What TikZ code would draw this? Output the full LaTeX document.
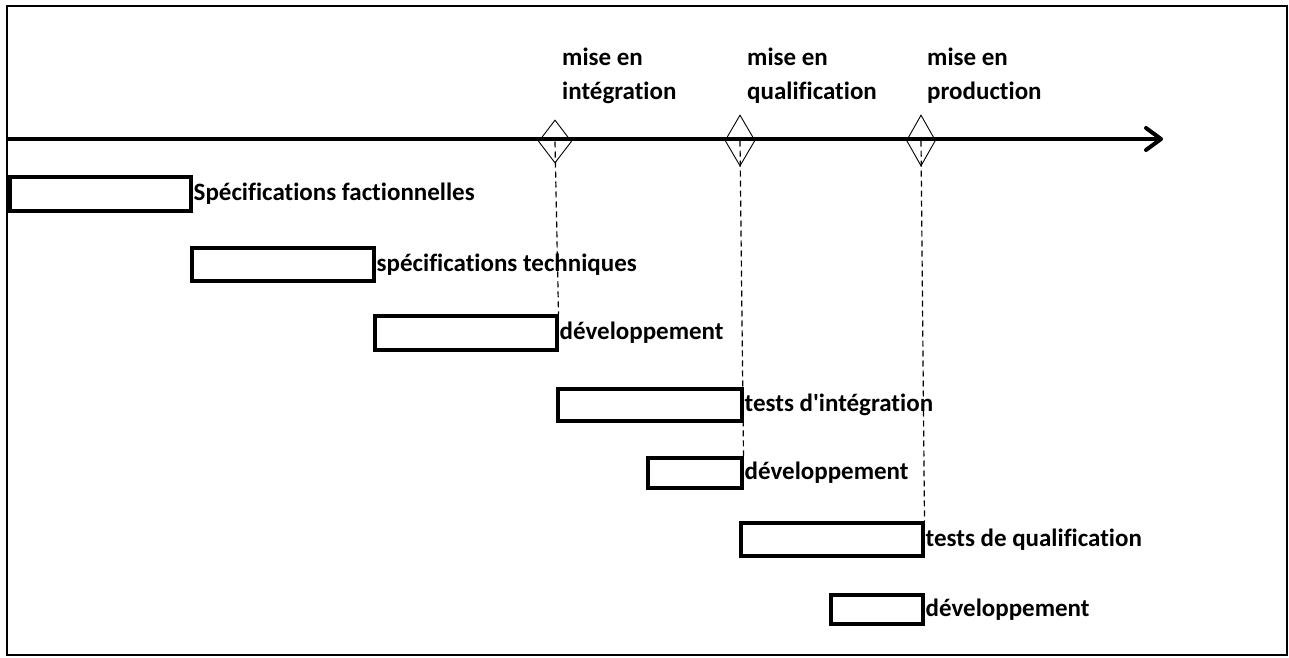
\documentclass[tikz,border=0pt]{standalone}
\usepackage{fontspec}
\setmainfont{Carlito}[Ligatures={TeXOff,CommonOff}]
\usepackage{tikz}
\usetikzlibrary{positioning, arrows.meta, shapes.geometric}
\tikzset{
  taskbox/.style={
    rectangle,
    draw,
    line width=3.5pt,
    inner sep=0pt,
    anchor=north west
  },
  tasklabel/.style={
    font=\fontsize{25}{34}\selectfont\bfseries,
    inner sep=0pt,
    text height=18pt,
    text depth=4pt
  },
  milestone/.style={
    diamond,
    draw,
    line width=0.9pt,
    inner sep=0pt
  },
  milestonelabel/.style={
    font=\fontsize{25}{34}\selectfont\bfseries,
    align=left,
    inner sep=0pt,
    anchor=south west
  },
  timeaxis/.style={
    line width=4pt,
    -{Straight Barb[length=15pt, width=22pt, round]}
  },
  guideline/.style={
    line width=1.2pt,
    dash pattern=on 6pt off 4pt
  }
}

\begin{document}
\begin{tikzpicture}[x=1pt, y=-1pt]
  \useasboundingbox (0,0) rectangle (1289,657);
  \draw[line width=2pt] (7,6) rectangle (1287,655);

  \node[taskbox, minimum width=181pt, minimum height=34pt] (spec) at (8,175) {};
  \node[taskbox, minimum width=182pt, minimum height=33pt] (tech) at (190,246) {};
  \node[taskbox, minimum width=182pt, minimum height=34pt] (dev1) at (373,314) {};
  \node[taskbox, minimum width=184pt, minimum height=32pt] (integ) at (556,387) {};
  \node[taskbox, minimum width=94pt, minimum height=30pt] (dev2) at (646,456) {};
  \node[taskbox, minimum width=182pt, minimum height=33pt] (qualif) at (739,521) {};
  \node[taskbox, minimum width=92pt, minimum height=29pt] (dev3) at (829,593) {};

  \node[tasklabel, right=1pt of spec] (specLbl) {Spécifications factionnelles};
  \node[tasklabel, right=1pt of tech] (techLbl) {spécifications techniques};
  \node[tasklabel, right=1pt of dev1] (dev1Lbl) {développement};
  \node[tasklabel, right=1pt of integ] (integLbl) {tests d'intégration};
  \node[tasklabel, right=1pt of dev2] (dev2Lbl) {développement};
  \node[tasklabel, right=1pt of qualif] (qualifLbl) {tests de qualification};
  \node[tasklabel, right=1pt of dev3] (dev3Lbl) {développement};

  \node[milestone, minimum width=33pt, minimum height=43pt] (m1) at (555,141.5) {};
  \node[milestone, minimum width=30pt, minimum height=51pt] (m2) at (740,140.5) {};
  \node[milestone, minimum width=29pt, minimum height=51pt] (m3) at (921,140.5) {};

  \draw[guideline] (m1.center) -- (dev1.north east);
  \draw[guideline] (m2.center) -- (dev2.north east);
  \draw[guideline] (m3.center) -- (qualif.north east);

  \coordinate (axisstart) at (7,139);
  \coordinate (axisend) at (1163,139);
  \draw[timeaxis] (axisstart) -- (axisend);

  \node[milestonelabel] (m1Lbl) at (562,104) {mise en\\intégration};
  \node[milestonelabel] (m2Lbl) at (747,104) {mise en\\qualification};
  \node[milestonelabel] (m3Lbl) at (927,104) {mise en\\production};
\end{tikzpicture}
\end{document}
